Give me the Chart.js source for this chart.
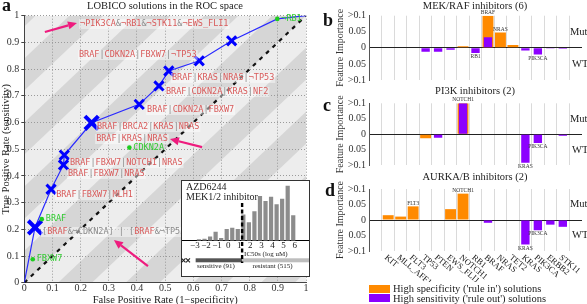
<!DOCTYPE html>
<html><head><meta charset="utf-8">
<script src="https://cdn.jsdelivr.net/npm/chart.js@4.4.1/dist/chart.umd.min.js"></script>
<style>
html,body{margin:0;padding:0;background:#fff;}
body{width:587px;height:304px;overflow:hidden;position:relative;font-family:"Liberation Serif","Times New Roman",serif;color:#222;}
canvas{position:absolute;}
.tt{position:absolute;white-space:nowrap;font-size:10.5px;line-height:12px;transform:translateX(-50%);}
.pl{position:absolute;font-weight:bold;font-size:18px;line-height:18px;color:#111;}
.lg{position:absolute;white-space:nowrap;font-size:10.5px;line-height:10px;}
.sw{position:absolute;width:21px;height:8px;}
</style></head><body>
<canvas id="cA" width="330" height="310" style="left:0;top:0"></canvas>
<canvas id="cI" width="129" height="97" style="left:181px;top:180px"></canvas>
<canvas id="cB" width="257" height="100" style="left:330px;top:0"></canvas>
<canvas id="cC" width="257" height="100" style="left:330px;top:86px"></canvas>
<canvas id="cD" width="257" height="110" style="left:330px;top:172px"></canvas>
<div class="pl" style="left:2px;top:-4px">a</div>
<div class="pl" style="left:323px;top:11px">b</div>
<div class="pl" style="left:323px;top:96px">c</div>
<div class="pl" style="left:325px;top:181px">d</div>
<div class="tt" style="left:165px;top:0px">LOBICO solutions in the ROC space</div>
<div class="tt" style="left:475px;top:0px">MEK/RAF inhibitors (6)</div>
<div class="tt" style="left:475px;top:85px">PI3K inhibitors (2)</div>
<div class="tt" style="left:475px;top:171px">AURKA/B inhibitors (2)</div>
<div class="sw" style="left:369px;top:285px;background:#ff8a00"></div>
<div class="lg" style="left:393px;top:284px">High specificity ('rule in') solutions</div>
<div class="sw" style="left:369px;top:294px;background:#8c00ff"></div>
<div class="lg" style="left:393px;top:294px">High sensitivity ('rule out') solutions</div>
<script>
// ---------------- data ----------------
const rocFPR = [0, 0.038, 0.095, 0.139, 0.142, 0.239, 0.408, 0.478, 0.513, 0.621, 0.736, 0.898, 1];
const rocTPR = [0, 0.207, 0.350, 0.441, 0.478, 0.599, 0.668, 0.737, 0.793, 0.831, 0.906, 0.988, 1];
const singleNames = ['FBXW7', 'BRAF', 'CDKN2A', '¬RB1'];
const singleFPR = [0.030, 0.062, 0.373, 0.898];
const singleTPR = [0.088, 0.238, 0.506, 0.988];
const ruleTexts = ['¬PIK3CA&¬RB1&¬STK11&¬EWS_FLI1', 'BRAF|CDKN2A|FBXW7|¬TP53', 'BRAF|KRAS|NRAS|¬TP53',
  'BRAF|CDKN2A|KRAS|NF2', 'BRAF|CDKN2A|FBXW7', 'BRAF|BRCA2|KRAS|NRAS', 'BRAF|KRAS|NRAS',
  'BRAF|FBXW7|NOTCH1|NRAS', 'BRAF|FBXW7|NRAS', 'BRAF|FBXW7|MLH1', '[BRAF{&¬CDKN2A}] | [BRAF{&¬TP53}]'];
const ruleFPR = [0.198, 0.194, 0.524, 0.503, 0.436, 0.258, 0.255, 0.162, 0.155, 0.113, 0.063];
const ruleTPR = [0.969, 0.853, 0.767, 0.714, 0.647, 0.583, 0.538, 0.448, 0.407, 0.328, 0.190];
const arrowFrom = [[0.073, 0.939], [0.631, 0.508], [0.439, 0.0625]];
const arrowTo = [[0.187, 0.973], [0.517, 0.538], [0.318, 0.160]];
const axisTicks = [0, 0.1, 0.2, 0.3, 0.4, 0.5, 0.6, 0.7, 0.8, 0.9, 1];

const histBins = [-2.63, -2.13, -1.63, -1.13, -0.63, -0.13, 0.37, 0.87, 1.37, 1.87, 2.37, 2.87, 3.37, 3.87, 4.37, 4.87, 5.37, 5.87];
const histCounts = [2, 3, 6, 13, 4, 17, 19, 17, 38, 27, 43, 65, 58, 64, 53, 61, 80, 37];
const histTicks = [-3, -2, -1, 0, 1, 2, 3, 4, 5, 6];
const icThreshold = 1.26;
const nSensitive = 91, nResistant = 515;

const genes = ['KIT', 'MLL_AFF1', 'FLT3', 'TP53', 'PTEN', 'EWS_FLI1', 'NOTCH1', 'RB1', 'BRAF', 'NRAS', 'TET2', 'KRAS', 'PIK3CA', 'ERBB2', 'STK11'];
const mekRuleIn  = [0, 0, 0, 0, 0, 0, 0.005, 0, 0.1, 0.048, 0.009, 0, 0, 0, 0];
const mekRuleOut = [0, 0, 0, -0.0125, -0.012, -0.006, 0, -0.016, 0.033, 0, 0, -0.008, -0.021, -0.002, -0.003];
const mekNotes   = ['', '', '', '', '', '', '', 'RB1', 'BRAF', 'NRAS', '', '', 'PIK3CA', '', ''];
const pi3kRuleIn  = [0, 0, 0, -0.013, 0, 0, 0.1, 0, 0, 0, 0, 0, 0, 0, 0];
const pi3kRuleOut = [0, 0, 0, 0, -0.011, 0, 0.1, 0, 0, 0, 0, -0.092, -0.028, 0, -0.005];
const pi3kNotes   = ['', '', '', '', '', '', 'NOTCH1', '', '', '', '', 'KRAS', 'PIK3CA', '', ''];
const aurRuleIn  = [0.0155, 0.011, 0.044, 0, 0, 0.035, 0.085, 0, 0, 0, 0, 0, 0, 0, 0];
const aurRuleOut = [0, 0, 0, 0, 0, 0, 0, 0, -0.009, 0, 0, -0.079, -0.033, -0.015, -0.022];
const aurNotes   = ['', '', 'FLT3', '', '', '', 'NOTCH1', '', '', '', '', 'KRAS', 'PIK3CA', '', ''];
const importanceTicks = [-0.1, -0.05, 0, 0.05, 0.1];
const importanceTickLabels = ['>0.1', '0.05', '0', '0.05', '>0.1'];

// ---------------- styling ----------------
const ORANGE = '#ff8a00', PURPLE = '#8c00ff';
const SERIF = '"Liberation Serif", "Times New Roman", serif';
const MONO = '"DejaVu Sans Mono", monospace';
Chart.defaults.font.family = SERIF;
Chart.defaults.color = '#222';
Chart.defaults.animation = false;
Chart.defaults.responsive = false;
Chart.defaults.devicePixelRatio = 1;
Chart.defaults.plugins.legend.display = false;
Chart.defaults.plugins.tooltip.enabled = false;

const markerRadius = rocFPR.map((_, i) => (i === 0 || i >= 11) ? 0 : (i === 1 || i === 5) ? 9.5 : 6.5);
const markerWidth = rocFPR.map((_, i) => (i === 1 || i === 5) ? 4 : 3);

function arrow(ctx, x1, y1, x2, y2, color, lw, head) {
  const a = Math.atan2(y2 - y1, x2 - x1);
  const bx = x2 - head * Math.cos(a), by = y2 - head * Math.sin(a);
  ctx.strokeStyle = color; ctx.fillStyle = color; ctx.lineWidth = lw;
  ctx.beginPath(); ctx.moveTo(x1, y1); ctx.lineTo(bx, by); ctx.stroke();
  const hw = head * 0.45;
  ctx.beginPath(); ctx.moveTo(x2, y2);
  ctx.lineTo(bx + hw * Math.sin(a), by - hw * Math.cos(a));
  ctx.lineTo(bx - hw * Math.sin(a), by + hw * Math.cos(a));
  ctx.closePath(); ctx.fill();
}

function drawRuleText(ctx, text, x, y) {
  ctx.font = '8.5px ' + MONO;
  ctx.textBaseline = 'middle'; ctx.textAlign = 'left';
  const plain = text.replace(/[{}]/g, '');
  const w = ctx.measureText(plain).width;
  ctx.fillStyle = 'rgba(255,255,255,0.45)';
  ctx.fillRect(x - 1, y - 5, w + 2, 10);
  let gray = false, cx = x;
  for (const ch of text) {
    if (ch === '{') { gray = true; continue; }
    if (ch === '}') { gray = false; continue; }
    ctx.fillStyle = (gray || '|&[] '.includes(ch)) ? '#8a8a8a' : '#d85a5a';
    ctx.fillText(ch, cx, y);
    cx += ctx.measureText(ch).width;
  }
}

const stripePlugin = {
  id: 'stripes',
  beforeDraw(chart) {
    const {ctx, chartArea: a, scales: {x, y}} = chart;
    ctx.save();
    ctx.beginPath(); ctx.rect(a.left, a.top, a.right - a.left, a.bottom - a.top); ctx.clip();
    ctx.fillStyle = '#ededed'; ctx.fillRect(a.left, a.top, a.right - a.left, a.bottom - a.top);
    ctx.fillStyle = '#d6d6d6';
    const P = 0.24, W = 0.12;
    for (let d = -1.56; d < 1.5; d += P) {
      const pts = [[d - 0.5, -0.5], [d + 1.5, 1.5], [d + W + 1.5, 1.5], [d + W - 0.5, -0.5]];
      ctx.beginPath();
      pts.forEach(([fx, ty], k) => {
        const px = x.getPixelForValue(fx), py = y.getPixelForValue(ty);
        k ? ctx.lineTo(px, py) : ctx.moveTo(px, py);
      });
      ctx.closePath(); ctx.fill();
    }
    ctx.restore();
  }
};

const annotPlugin = {
  id: 'annot',
  afterDatasetsDraw(chart) {
    const {ctx, scales: {x, y}} = chart;
    ctx.save();
    ruleTexts.forEach((t, i) => drawRuleText(ctx, t, x.getPixelForValue(ruleFPR[i]), y.getPixelForValue(ruleTPR[i])));
    ctx.font = '8.5px ' + MONO; ctx.textBaseline = 'middle'; ctx.textAlign = 'left';
    singleNames.forEach((n, i) => {
      ctx.fillStyle = '#33cc33';
      ctx.fillText(n, x.getPixelForValue(singleFPR[i]) + 4, y.getPixelForValue(singleTPR[i]));
    });
    arrowFrom.forEach((f, i) => {
      const t = arrowTo[i];
      arrow(ctx, x.getPixelForValue(f[0]), y.getPixelForValue(f[1]), x.getPixelForValue(t[0]), y.getPixelForValue(t[1]), '#ee1c7e', 2.2, 9);
    });
    ctx.restore();
  }
};

const fmt = v => String(Math.round(v * 10) / 10);

new Chart(document.getElementById('cA'), {
  type: 'scatter',
  data: {datasets: [
    {type: 'line', data: [{x: 0, y: 0}, {x: 1, y: 1}], borderColor: '#111', borderWidth: 2.2, borderDash: [4, 5], pointRadius: 0, order: 3},
    {type: 'line', data: rocFPR.map((f, i) => ({x: f, y: rocTPR[i]})), borderColor: '#2a2aff', borderWidth: 1.2,
      pointStyle: 'crossRot', pointRadius: markerRadius, pointBorderWidth: markerWidth, pointBorderColor: '#0000ff',
      pointBackgroundColor: '#0000ff', order: 2},
    {type: 'scatter', data: singleFPR.map((f, i) => ({x: f, y: singleTPR[i]})), pointRadius: 2.3,
      pointBackgroundColor: '#1fcc1f', pointBorderWidth: 0, order: 1}
  ]},
  options: {
    layout: {padding: {left: 0, right: 24, top: 15.7, bottom: 0}},
    scales: {
      x: {type: 'linear', min: 0, max: 1,
        afterBuildTicks(s) { s.ticks = axisTicks.map(v => ({value: v})); },
        afterFit(s) { s.height = 27.3; },
        ticks: {callback: fmt, padding: 0, font: {size: 10}, maxRotation: 0, autoSkip: false, color: '#333'},
        grid: {color: '#9a9a9a', lineWidth: 1, drawTicks: false},
        border: {display: true, color: '#444', width: 1, dash: [1, 2]},
        title: {display: true, text: 'False Positive Rate (1−specificity)', font: {size: 10.5}, padding: {top: 0, bottom: 3.7}, color: '#222'}},
      y: {type: 'linear', min: 0, max: 1,
        afterBuildTicks(s) { s.ticks = axisTicks.map(v => ({value: v})); },
        afterFit(s) { s.width = 24.3; },
        ticks: {callback: fmt, padding: 2, font: {size: 10}, autoSkip: false, color: '#333'},
        grid: {color: '#9a9a9a', lineWidth: 1, drawTicks: true, tickLength: 3, tickColor: '#444'},
        border: {display: true, color: '#444', width: 1, dash: [1, 2]},
        title: {display: true, text: 'True Positive Rate (sensitivity)', font: {size: 10.5}, padding: {top: 0, bottom: 0}, color: '#222'}}
    }
  },
  plugins: [stripePlugin, annotPlugin]
});

// ---------------- inset ----------------
const insetPlugin = {
  id: 'inset',
  beforeDraw(chart) {
    const {ctx, width, height} = chart;
    ctx.save(); ctx.fillStyle = '#fff'; ctx.fillRect(0, 0, width, height); ctx.restore();
  },
  afterDraw(chart) {
    const {ctx, width, height, chartArea: a, scales: {x}} = chart;
    ctx.save();
    ctx.strokeStyle = '#333'; ctx.lineWidth = 1; ctx.strokeRect(0.5, 0.5, width - 1, height - 1);
    ctx.fillStyle = '#222'; ctx.textAlign = 'left'; ctx.textBaseline = 'middle';
    ctx.font = '10px ' + SERIF;
    ctx.fillText('AZD6244', 5, 7);
    ctx.fillText('MEK1/2 inhibitor', 5, 17.5);
    const tx = x.getPixelForValue(icThreshold);
    const x0 = x.getPixelForValue(-2.93);
    ctx.fillStyle = '#555'; ctx.fillRect(x0, 78.3, tx - x0, 4);
    ctx.fillStyle = '#bdbdbd'; ctx.fillRect(tx, 78.3, width - 1 - tx, 4);
    ctx.strokeStyle = '#222'; ctx.lineWidth = 1.1;
    [2.5, 7].forEach(cx => { ctx.beginPath(); ctx.moveTo(cx - 2, 78.3); ctx.lineTo(cx + 2, 82.3); ctx.moveTo(cx + 2, 78.3); ctx.lineTo(cx - 2, 82.3); ctx.stroke(); });
    ctx.strokeStyle = '#000'; ctx.lineWidth = 2.4; ctx.setLineDash([4, 2.5]);
    ctx.beginPath(); ctx.moveTo(tx, 23); ctx.lineTo(tx, 83); ctx.stroke(); ctx.setLineDash([]);
    ctx.fillStyle = '#222'; ctx.font = '7px ' + SERIF;
    ctx.fillText('IC50s (log uM)', tx + 2, 74);
    ctx.textAlign = 'center';
    ctx.fillText('sensitive (' + nSensitive + ')', x.getPixelForValue(-1.1), 86.5);
    ctx.fillText('resistant (' + nResistant + ')', x.getPixelForValue(4.0), 86.5);
    ctx.restore();
  }
};
new Chart(document.getElementById('cI'), {
  type: 'bar',
  data: {datasets: [{data: histBins.map((b, i) => ({x: b, y: histCounts[i]})), backgroundColor: '#8c8c8c', barPercentage: 0.76, categoryPercentage: 1}]},
  options: {
    layout: {padding: {left: 0, right: 0, top: 1, bottom: 0}},
    scales: {
      x: {type: 'linear', min: -3.67, max: 6.8,
        afterBuildTicks(s) { s.ticks = histTicks.map(v => ({value: v})); },
        afterFit(s) { s.height = 36.3; },
        ticks: {callback: v => v < 0 ? '−' + (-v) : String(v), padding: 0, font: {size: 9}, maxRotation: 0, autoSkip: false, color: '#222'},
        grid: {display: false, drawTicks: false},
        border: {display: true, color: '#000', width: 1}},
      y: {display: false, min: 0, max: 87}
    }
  },
  plugins: [insetPlugin]
});

// ---------------- importance panels ----------------
function smallPanel(id, ruleIn, ruleOut, notes, padTop, padBottom, geneLabels) {
  const notesPlugin = {
    id: 'notes',
    afterDatasetsDraw(chart) {
      const {ctx, chartArea: a, scales: {x, y}} = chart;
      ctx.save();
      ctx.fillStyle = '#333'; ctx.textAlign = 'center'; ctx.font = '5.5px ' + SERIF;
      notes.forEach((n, i) => {
        if (!n) return;
        const v = Math.abs(ruleIn[i]) >= Math.abs(ruleOut[i]) ? ruleIn[i] : ruleOut[i];
        const px = x.getPixelForValue(i), py = y.getPixelForValue(v);
        if (v > 0) { ctx.textBaseline = 'bottom'; ctx.fillText(n, px, py - 0.5); }
        else { ctx.textBaseline = 'top'; ctx.fillText(n, px, py + 1); }
      });
      ctx.font = '10.5px ' + SERIF; ctx.textAlign = 'left'; ctx.textBaseline = 'middle'; ctx.fillStyle = '#222';
      ctx.fillText('Mut', a.right - 12, y.getPixelForValue(0.05));
      ctx.fillText('WT', a.right - 10, y.getPixelForValue(-0.05));
      if (geneLabels) {
        ctx.font = '8.5px ' + SERIF; ctx.fillStyle = '#222';
        genes.forEach((g, i) => {
          ctx.save();
          ctx.translate(x.getPixelForValue(i) - 2.5, a.bottom + 5.5);
          ctx.rotate(40 * Math.PI / 180);
          ctx.fillText(g, 0, 0);
          ctx.restore();
        });
      }
      ctx.restore();
    }
  };
  new Chart(document.getElementById(id), {
    type: 'bar',
    data: {datasets: [
      {data: genes.map((g, i) => ({x: i, y: ruleIn[i]})), backgroundColor: ORANGE, barPercentage: 0.875, categoryPercentage: 1, grouped: false, order: 1},
      {data: genes.map((g, i) => ({x: i, y: ruleOut[i]})), backgroundColor: PURPLE, barPercentage: 0.67, categoryPercentage: 1, grouped: false, order: 0}
    ]},
    options: {
      layout: {padding: {left: 0, right: 5, top: padTop, bottom: padBottom}},
      scales: {
        x: {type: 'linear', min: -0.97, max: 14.97,
          afterBuildTicks(s) { s.ticks = genes.map((g, i) => ({value: i})); },
          afterFit(s) { s.height = 0; },
          ticks: {display: false},
          grid: {color: '#dadada', lineWidth: 1, drawTicks: false},
          border: {display: false}},
        y: {min: -0.1, max: 0.1,
          afterBuildTicks(s) { s.ticks = importanceTicks.map(v => ({value: v})); },
          afterFit(s) { s.width = 39; },
          ticks: {callback: (v, i) => importanceTickLabels[i], padding: 3, font: {size: 10}, color: '#333', autoSkip: false},
          grid: {color: c => (c.tick && c.tick.value === 0) ? '#222' : 'rgba(0,0,0,0)', lineWidth: 1, drawTicks: false},
          border: {display: true, color: '#555', width: 1},
          title: {display: true, text: 'Feature Importance', font: {size: 10}, padding: {top: 4, bottom: 0}, color: '#333'}}
      }
    },
    plugins: [notesPlugin]
  });
}
smallPanel('cB', mekRuleIn, mekRuleOut, mekNotes, 15.7, 20, false);
smallPanel('cC', pi3kRuleIn, pi3kRuleOut, pi3kNotes, 17.3, 20.7, false);
smallPanel('cD', aurRuleIn, aurRuleOut, aurNotes, 17, 31, true);
</script>
</body></html>
